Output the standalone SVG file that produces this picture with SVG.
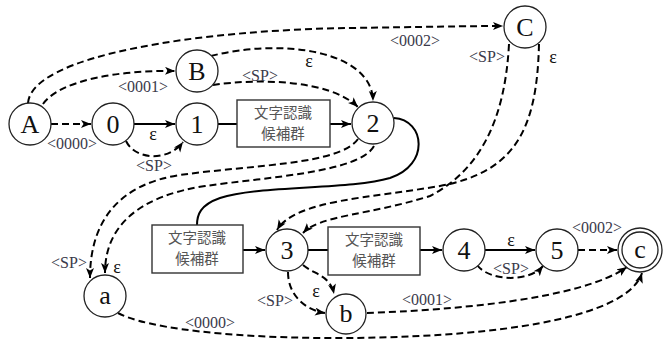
<svg xmlns="http://www.w3.org/2000/svg" width="665" height="345" viewBox="0 0 665 345">
<style>
.n{fill:#fff;stroke:#222;stroke-width:1.3}
.b{fill:#fff;stroke:#333;stroke-width:1.4}
.t{font-family:"Liberation Serif",serif;font-size:26px;fill:#111;text-anchor:middle}
.j{font-family:"Noto Sans CJK JP","Noto Sans CJK SC",sans-serif;font-size:14.5px;fill:#555;text-anchor:middle}
.l{font-family:"Liberation Serif",serif;font-size:16px;fill:#3a3a4a;text-anchor:middle}
.e{font-family:"Liberation Serif",serif;font-size:18px;fill:#111;text-anchor:middle}
.s{fill:none;stroke:#000;stroke-width:2}
.d{fill:none;stroke:#000;stroke-width:2;stroke-dasharray:7 4}
.a{marker-end:url(#ah)}
</style>
<defs>
<marker id="ah" markerWidth="11" markerHeight="9" refX="10" refY="4" orient="auto" markerUnits="userSpaceOnUse">
<path d="M0,0 L10,4 L0,8 L2.5,4 z" fill="#000"/>
</marker>
</defs>
<g id="connectors">
<path class="d a" d="M51,124 L91,124"/>
<path class="s a" d="M134,124 L175,124"/>
<path class="d a" d="M126,141 C135,160 168,162 183,142"/>
<path class="s" d="M218,124 L237,124"/>
<path class="s a" d="M330,124 L351,124"/>
<path class="d a" d="M43,104 C60,80 120,70 175,71"/>
<path class="d a" d="M28,103 C32,55 200,30 350,28 C420,27 470,26 503,26"/>
<path class="d a" d="M211,56 C280,38 372,50 373,101"/>
<path class="d a" d="M213,85 C260,78 330,80 358,107"/>
<path class="s" d="M394,118 C425,120 430,165 390,178 C350,190 260,185 220,198 C200,205 197,215 197,225"/>
<path class="d a" d="M358,139 C340,165 250,165 180,175 C120,184 90,220 90,278"/>
<path class="d a" d="M374,146 C360,172 270,177 205,186 C140,196 105,225 105,273"/>
<path class="d a" d="M539,44 C537,130 515,172 440,186 C370,198 295,200 277,230"/>
<path class="d a" d="M509,44 C505,120 480,170 430,196 C370,215 320,215 303,233"/>
<path class="s a" d="M243,250 L265,250"/>
<path class="s" d="M308,250 L328,250"/>
<path class="s a" d="M420,250 L442,250"/>
<path class="s a" d="M485,250 L535,250"/>
<path class="d a" d="M477,265 C490,282 530,282 543,266"/>
<path class="d a" d="M578,250 L617,250"/>
<path class="d a" d="M288,272 C288,295 305,310 325,313"/>
<path class="d a" d="M303,265 C315,275 330,275 334,294"/>
<path class="d a" d="M367,313 C450,310 580,300 627,267"/>
<path class="d a" d="M118,313 C160,335 300,342 420,336 C540,330 630,310 642,273"/>
</g>
<g id="labels">
<text class="l" x="72" y="149">&lt;0000&gt;</text>
<text class="e" x="153" y="140">ε</text>
<text class="l" x="154" y="171">&lt;SP&gt;</text>
<text class="l" x="143" y="92">&lt;0001&gt;</text>
<text class="l" x="260" y="81">&lt;SP&gt;</text>
<text class="e" x="309" y="67">ε</text>
<text class="l" x="415" y="46">&lt;0002&gt;</text>
<text class="l" x="487" y="62">&lt;SP&gt;</text>
<text class="e" x="553" y="63">ε</text>
<text class="l" x="69" y="268">&lt;SP&gt;</text>
<text class="e" x="117" y="273">ε</text>
<text class="e" x="511" y="246">ε</text>
<text class="l" x="511" y="274">&lt;SP&gt;</text>
<text class="l" x="597" y="233">&lt;0002&gt;</text>
<text class="l" x="275" y="306">&lt;SP&gt;</text>
<text class="e" x="316" y="297">ε</text>
<text class="l" x="427" y="305">&lt;0001&gt;</text>
<text class="l" x="210" y="328">&lt;0000&gt;</text>
</g>
<g id="nA"><circle class="n" cx="30" cy="124" r="21"/><text class="t" x="30" y="133">A</text></g>
<g id="n0"><circle class="n" cx="113" cy="124" r="21"/><text class="t" x="113" y="133">0</text></g>
<g id="n1"><circle class="n" cx="197" cy="124" r="21"/><text class="t" x="197" y="133">1</text></g>
<g id="box1"><rect class="b" x="237" y="100" width="93" height="47"/><text class="j" x="283" y="117.5">文字認識</text><text class="j" x="283" y="138.5">候補群</text></g>
<g id="n2"><circle class="n" cx="373" cy="123" r="21"/><text class="t" x="373" y="132">2</text></g>
<g id="nB"><circle class="n" cx="197" cy="71" r="21"/><text class="t" x="197" y="80">B</text></g>
<g id="nC"><circle class="n" cx="525" cy="27" r="21"/><text class="t" x="525" y="36">C</text></g>
<g id="box2"><rect class="b" x="152" y="225" width="91" height="48"/><text class="j" x="197" y="243">文字認識</text><text class="j" x="197" y="264">候補群</text></g>
<g id="n3"><circle class="n" cx="287" cy="250" r="21"/><text class="t" x="287" y="259">3</text></g>
<g id="box3"><rect class="b" x="328" y="227" width="92" height="48"/><text class="j" x="374" y="245">文字認識</text><text class="j" x="374" y="266">候補群</text></g>
<g id="n4"><circle class="n" cx="464" cy="250" r="21"/><text class="t" x="464" y="259">4</text></g>
<g id="n5"><circle class="n" cx="557" cy="250" r="21"/><text class="t" x="557" y="259">5</text></g>
<g id="nc"><circle class="n" cx="640" cy="250" r="22"/><circle class="n" cx="640" cy="250" r="18"/><text class="t" x="640" y="258">c</text></g>
<g id="na"><circle class="n" cx="105" cy="296" r="21"/><text class="t" x="105" y="304">a</text></g>
<g id="nb"><circle class="n" cx="346" cy="314" r="20"/><text class="t" x="346" y="322">b</text></g>
</svg>
